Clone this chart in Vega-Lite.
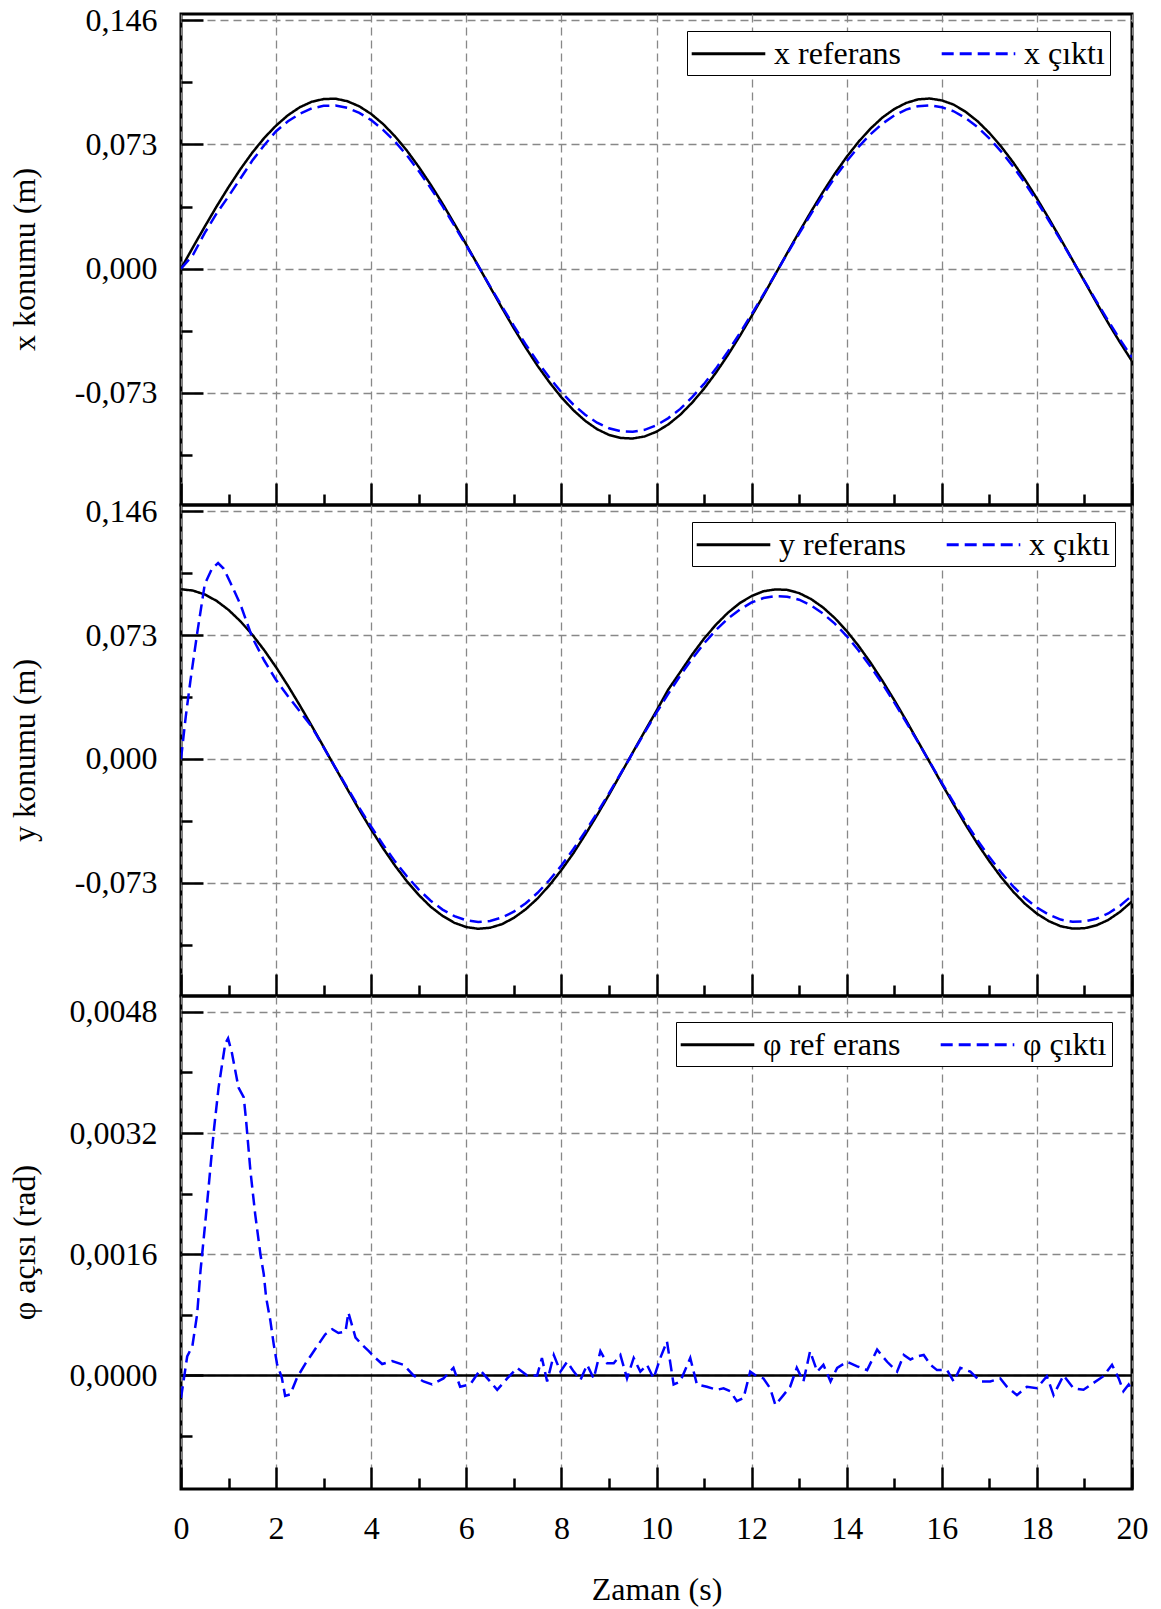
{
  "$schema": "https://vega.github.io/schema/vega-lite/v6.json",
  "background": "white",
  "padding": {"left": 6, "top": 2, "right": 20, "bottom": 5},
  "spacing": 0,
  "bounds": "flush",
  "datasets": {
    "p1": [
      {"t":0,"v":0,"s":"x referans"},{"t":0.25,"v":0.0125,"s":"x referans"},{"t":0.5,"v":0.0247,"s":"x referans"},{"t":0.75,"v":0.0366,"s":"x referans"},{"t":1,"v":0.0479,"s":"x referans"},{"t":1.25,"v":0.0585,"s":"x referans"},{"t":1.5,"v":0.0682,"s":"x referans"},{"t":1.75,"v":0.0768,"s":"x referans"},{"t":2,"v":0.0841,"s":"x referans"},{"t":2.25,"v":0.0902,"s":"x referans"},{"t":2.5,"v":0.0949,"s":"x referans"},{"t":2.75,"v":0.0981,"s":"x referans"},{"t":3,"v":0.0997,"s":"x referans"},{"t":3.25,"v":0.0999,"s":"x referans"},{"t":3.5,"v":0.0984,"s":"x referans"},{"t":3.75,"v":0.0954,"s":"x referans"},{"t":4,"v":0.0909,"s":"x referans"},{"t":4.25,"v":0.085,"s":"x referans"},{"t":4.5,"v":0.0778,"s":"x referans"},{"t":4.75,"v":0.0694,"s":"x referans"},{"t":5,"v":0.0598,"s":"x referans"},{"t":5.25,"v":0.0494,"s":"x referans"},{"t":5.5,"v":0.0382,"s":"x referans"},{"t":5.75,"v":0.0263,"s":"x referans"},{"t":6,"v":0.0141,"s":"x referans"},{"t":6.25,"v":0.0017,"s":"x referans"},{"t":6.5,"v":-0.0108,"s":"x referans"},{"t":6.75,"v":-0.0231,"s":"x referans"},{"t":7,"v":-0.0351,"s":"x referans"},{"t":7.25,"v":-0.0465,"s":"x referans"},{"t":7.5,"v":-0.0572,"s":"x referans"},{"t":7.75,"v":-0.0669,"s":"x referans"},{"t":8,"v":-0.0757,"s":"x referans"},{"t":8.25,"v":-0.0832,"s":"x referans"},{"t":8.5,"v":-0.0895,"s":"x referans"},{"t":8.75,"v":-0.0944,"s":"x referans"},{"t":9,"v":-0.0978,"s":"x referans"},{"t":9.25,"v":-0.0996,"s":"x referans"},{"t":9.5,"v":-0.0999,"s":"x referans"},{"t":9.75,"v":-0.0987,"s":"x referans"},{"t":10,"v":-0.0959,"s":"x referans"},{"t":10.25,"v":-0.0916,"s":"x referans"},{"t":10.5,"v":-0.0859,"s":"x referans"},{"t":10.75,"v":-0.0788,"s":"x referans"},{"t":11,"v":-0.0706,"s":"x referans"},{"t":11.25,"v":-0.0612,"s":"x referans"},{"t":11.5,"v":-0.0509,"s":"x referans"},{"t":11.75,"v":-0.0397,"s":"x referans"},{"t":12,"v":-0.0279,"s":"x referans"},{"t":12.25,"v":-0.0158,"s":"x referans"},{"t":12.5,"v":-0.0033,"s":"x referans"},{"t":12.75,"v":0.0092,"s":"x referans"},{"t":13,"v":0.0215,"s":"x referans"},{"t":13.25,"v":0.0335,"s":"x referans"},{"t":13.5,"v":0.045,"s":"x referans"},{"t":13.75,"v":0.0558,"s":"x referans"},{"t":14,"v":0.0657,"s":"x referans"},{"t":14.25,"v":0.0746,"s":"x referans"},{"t":14.5,"v":0.0823,"s":"x referans"},{"t":14.75,"v":0.0888,"s":"x referans"},{"t":15,"v":0.0938,"s":"x referans"},{"t":15.25,"v":0.0974,"s":"x referans"},{"t":15.5,"v":0.0995,"s":"x referans"},{"t":15.75,"v":0.1,"s":"x referans"},{"t":16,"v":0.0989,"s":"x referans"},{"t":16.25,"v":0.0964,"s":"x referans"},{"t":16.5,"v":0.0922,"s":"x referans"},{"t":16.75,"v":0.0867,"s":"x referans"},{"t":17,"v":0.0798,"s":"x referans"},{"t":17.25,"v":0.0717,"s":"x referans"},{"t":17.5,"v":0.0625,"s":"x referans"},{"t":17.75,"v":0.0523,"s":"x referans"},{"t":18,"v":0.0412,"s":"x referans"},{"t":18.25,"v":0.0295,"s":"x referans"},{"t":18.5,"v":0.0174,"s":"x referans"},{"t":18.75,"v":0.005,"s":"x referans"},{"t":19,"v":-0.0075,"s":"x referans"},{"t":19.25,"v":-0.0199,"s":"x referans"},{"t":19.5,"v":-0.032,"s":"x referans"},{"t":19.75,"v":-0.0435,"s":"x referans"},{"t":20,"v":-0.0544,"s":"x referans"},
      {"t":0,"v":0,"s":"x çıktı"},{"t":0.25,"v":0.008,"s":"x çıktı"},{"t":0.5,"v":0.021,"s":"x çıktı"},{"t":0.75,"v":0.0325,"s":"x çıktı"},{"t":1,"v":0.0425,"s":"x çıktı"},{"t":1.25,"v":0.053,"s":"x çıktı"},{"t":1.5,"v":0.0635,"s":"x çıktı"},{"t":1.75,"v":0.0725,"s":"x çıktı"},{"t":2,"v":0.0808,"s":"x çıktı"},{"t":2.25,"v":0.0866,"s":"x çıktı"},{"t":2.5,"v":0.0911,"s":"x çıktı"},{"t":2.75,"v":0.0942,"s":"x çıktı"},{"t":3,"v":0.0957,"s":"x çıktı"},{"t":3.25,"v":0.0959,"s":"x çıktı"},{"t":3.5,"v":0.0945,"s":"x çıktı"},{"t":3.75,"v":0.0916,"s":"x çıktı"},{"t":4,"v":0.0873,"s":"x çıktı"},{"t":4.25,"v":0.0816,"s":"x çıktı"},{"t":4.5,"v":0.0747,"s":"x çıktı"},{"t":4.75,"v":0.0666,"s":"x çıktı"},{"t":5,"v":0.0574,"s":"x çıktı"},{"t":5.25,"v":0.0474,"s":"x çıktı"},{"t":5.5,"v":0.0367,"s":"x çıktı"},{"t":5.75,"v":0.0252,"s":"x çıktı"},{"t":6,"v":0.0135,"s":"x çıktı"},{"t":6.25,"v":0.0016,"s":"x çıktı"},{"t":6.5,"v":-0.0104,"s":"x çıktı"},{"t":6.75,"v":-0.0222,"s":"x çıktı"},{"t":7,"v":-0.0337,"s":"x çıktı"},{"t":7.25,"v":-0.0446,"s":"x çıktı"},{"t":7.5,"v":-0.0549,"s":"x çıktı"},{"t":7.75,"v":-0.0642,"s":"x çıktı"},{"t":8,"v":-0.0727,"s":"x çıktı"},{"t":8.25,"v":-0.0799,"s":"x çıktı"},{"t":8.5,"v":-0.0859,"s":"x çıktı"},{"t":8.75,"v":-0.0906,"s":"x çıktı"},{"t":9,"v":-0.0939,"s":"x çıktı"},{"t":9.25,"v":-0.0956,"s":"x çıktı"},{"t":9.5,"v":-0.0959,"s":"x çıktı"},{"t":9.75,"v":-0.0948,"s":"x çıktı"},{"t":10,"v":-0.0921,"s":"x çıktı"},{"t":10.25,"v":-0.0879,"s":"x çıktı"},{"t":10.5,"v":-0.0825,"s":"x çıktı"},{"t":10.75,"v":-0.0756,"s":"x çıktı"},{"t":11,"v":-0.0678,"s":"x çıktı"},{"t":11.25,"v":-0.0588,"s":"x çıktı"},{"t":11.5,"v":-0.0489,"s":"x çıktı"},{"t":11.75,"v":-0.0381,"s":"x çıktı"},{"t":12,"v":-0.0268,"s":"x çıktı"},{"t":12.25,"v":-0.0152,"s":"x çıktı"},{"t":12.5,"v":-0.0032,"s":"x çıktı"},{"t":12.75,"v":0.0088,"s":"x çıktı"},{"t":13,"v":0.0206,"s":"x çıktı"},{"t":13.25,"v":0.0322,"s":"x çıktı"},{"t":13.5,"v":0.0432,"s":"x çıktı"},{"t":13.75,"v":0.0536,"s":"x çıktı"},{"t":14,"v":0.0631,"s":"x çıktı"},{"t":14.25,"v":0.0716,"s":"x çıktı"},{"t":14.5,"v":0.079,"s":"x çıktı"},{"t":14.75,"v":0.0852,"s":"x çıktı"},{"t":15,"v":0.09,"s":"x çıktı"},{"t":15.25,"v":0.0935,"s":"x çıktı"},{"t":15.5,"v":0.0955,"s":"x çıktı"},{"t":15.75,"v":0.096,"s":"x çıktı"},{"t":16,"v":0.0949,"s":"x çıktı"},{"t":16.25,"v":0.0925,"s":"x çıktı"},{"t":16.5,"v":0.0885,"s":"x çıktı"},{"t":16.75,"v":0.0832,"s":"x çıktı"},{"t":17,"v":0.0766,"s":"x çıktı"},{"t":17.25,"v":0.0688,"s":"x çıktı"},{"t":17.5,"v":0.06,"s":"x çıktı"},{"t":17.75,"v":0.0502,"s":"x çıktı"},{"t":18,"v":0.0396,"s":"x çıktı"},{"t":18.25,"v":0.0283,"s":"x çıktı"},{"t":18.5,"v":0.0167,"s":"x çıktı"},{"t":18.75,"v":0.0048,"s":"x çıktı"},{"t":19,"v":-0.0072,"s":"x çıktı"},{"t":19.25,"v":-0.0191,"s":"x çıktı"},{"t":19.5,"v":-0.0307,"s":"x çıktı"},{"t":19.75,"v":-0.0418,"s":"x çıktı"},{"t":20,"v":-0.0522,"s":"x çıktı"}
    ],
    "p2": [
      {"t":0,"v":0.1,"s":"y referans"},{"t":0.25,"v":0.0992,"s":"y referans"},{"t":0.5,"v":0.0969,"s":"y referans"},{"t":0.75,"v":0.0931,"s":"y referans"},{"t":1,"v":0.0878,"s":"y referans"},{"t":1.25,"v":0.0811,"s":"y referans"},{"t":1.5,"v":0.0732,"s":"y referans"},{"t":1.75,"v":0.0641,"s":"y referans"},{"t":2,"v":0.054,"s":"y referans"},{"t":2.25,"v":0.0431,"s":"y referans"},{"t":2.5,"v":0.0315,"s":"y referans"},{"t":2.75,"v":0.0195,"s":"y referans"},{"t":3,"v":0.0071,"s":"y referans"},{"t":3.25,"v":-0.0054,"s":"y referans"},{"t":3.5,"v":-0.0178,"s":"y referans"},{"t":3.75,"v":-0.03,"s":"y referans"},{"t":4,"v":-0.0416,"s":"y referans"},{"t":4.25,"v":-0.0526,"s":"y referans"},{"t":4.5,"v":-0.0628,"s":"y referans"},{"t":4.75,"v":-0.072,"s":"y referans"},{"t":5,"v":-0.0801,"s":"y referans"},{"t":5.25,"v":-0.087,"s":"y referans"},{"t":5.5,"v":-0.0924,"s":"y referans"},{"t":5.75,"v":-0.0965,"s":"y referans"},{"t":6,"v":-0.099,"s":"y referans"},{"t":6.25,"v":-0.1,"s":"y referans"},{"t":6.5,"v":-0.0994,"s":"y referans"},{"t":6.75,"v":-0.0973,"s":"y referans"},{"t":7,"v":-0.0936,"s":"y referans"},{"t":7.25,"v":-0.0885,"s":"y referans"},{"t":7.5,"v":-0.0821,"s":"y referans"},{"t":7.75,"v":-0.0743,"s":"y referans"},{"t":8,"v":-0.0654,"s":"y referans"},{"t":8.25,"v":-0.0556,"s":"y referans"},{"t":8.5,"v":-0.0446,"s":"y referans"},{"t":8.75,"v":-0.0331,"s":"y referans"},{"t":9,"v":-0.0211,"s":"y referans"},{"t":9.25,"v":-0.0087,"s":"y referans"},{"t":9.5,"v":0.0038,"s":"y referans"},{"t":9.75,"v":0.0162,"s":"y referans"},{"t":10,"v":0.0284,"s":"y referans"},{"t":10.25,"v":0.041,"s":"y referans"},{"t":10.5,"v":0.0512,"s":"y referans"},{"t":10.75,"v":0.0615,"s":"y referans"},{"t":11,"v":0.0709,"s":"y referans"},{"t":11.25,"v":0.0791,"s":"y referans"},{"t":11.5,"v":0.0861,"s":"y referans"},{"t":11.75,"v":0.0918,"s":"y referans"},{"t":12,"v":0.096,"s":"y referans"},{"t":12.25,"v":0.0988,"s":"y referans"},{"t":12.5,"v":0.0999,"s":"y referans"},{"t":12.75,"v":0.0996,"s":"y referans"},{"t":13,"v":0.0977,"s":"y referans"},{"t":13.25,"v":0.0942,"s":"y referans"},{"t":13.5,"v":0.0893,"s":"y referans"},{"t":13.75,"v":0.083,"s":"y referans"},{"t":14,"v":0.0754,"s":"y referans"},{"t":14.25,"v":0.0666,"s":"y referans"},{"t":14.5,"v":0.0568,"s":"y referans"},{"t":14.75,"v":0.0461,"s":"y referans"},{"t":15,"v":0.0347,"s":"y referans"},{"t":15.25,"v":0.0227,"s":"y referans"},{"t":15.5,"v":0.0103,"s":"y referans"},{"t":15.75,"v":-0.0021,"s":"y referans"},{"t":16,"v":-0.0146,"s":"y referans"},{"t":16.25,"v":-0.0268,"s":"y referans"},{"t":16.5,"v":-0.0387,"s":"y referans"},{"t":16.75,"v":-0.0499,"s":"y referans"},{"t":17,"v":-0.0602,"s":"y referans"},{"t":17.25,"v":-0.0697,"s":"y referans"},{"t":17.5,"v":-0.0781,"s":"y referans"},{"t":17.75,"v":-0.0853,"s":"y referans"},{"t":18,"v":-0.0911,"s":"y referans"},{"t":18.25,"v":-0.0955,"s":"y referans"},{"t":18.5,"v":-0.0985,"s":"y referans"},{"t":18.75,"v":-0.0999,"s":"y referans"},{"t":19,"v":-0.0997,"s":"y referans"},{"t":19.25,"v":-0.098,"s":"y referans"},{"t":19.5,"v":-0.0948,"s":"y referans"},{"t":19.75,"v":-0.09,"s":"y referans"},{"t":20,"v":-0.0839,"s":"y referans"},
      {"t":0,"v":0,"s":"x çıktı"},{"t":0.1,"v":0.025,"s":"x çıktı"},{"t":0.2,"v":0.0465,"s":"x çıktı"},{"t":0.34,"v":0.074,"s":"x çıktı"},{"t":0.5,"v":0.103,"s":"x çıktı"},{"t":0.65,"v":0.112,"s":"x çıktı"},{"t":0.78,"v":0.1154,"s":"x çıktı"},{"t":0.9,"v":0.112,"s":"x çıktı"},{"t":1.04,"v":0.1038,"s":"x çıktı"},{"t":1.25,"v":0.091,"s":"x çıktı"},{"t":1.5,"v":0.0715,"s":"x çıktı"},{"t":1.75,"v":0.058,"s":"x çıktı"},{"t":2,"v":0.0465,"s":"x çıktı"},{"t":2.25,"v":0.037,"s":"x çıktı"},{"t":2.5,"v":0.028,"s":"x çıktı"},{"t":2.75,"v":0.019,"s":"x çıktı"},{"t":3,"v":0.0068,"s":"x çıktı"},{"t":3.25,"v":-0.0052,"s":"x çıktı"},{"t":3.5,"v":-0.0171,"s":"x çıktı"},{"t":3.75,"v":-0.0288,"s":"x çıktı"},{"t":4,"v":-0.0399,"s":"x çıktı"},{"t":4.25,"v":-0.0505,"s":"x çıktı"},{"t":4.5,"v":-0.0603,"s":"x çıktı"},{"t":4.75,"v":-0.0691,"s":"x çıktı"},{"t":5,"v":-0.0769,"s":"x çıktı"},{"t":5.25,"v":-0.0835,"s":"x çıktı"},{"t":5.5,"v":-0.0887,"s":"x çıktı"},{"t":5.75,"v":-0.0926,"s":"x çıktı"},{"t":6,"v":-0.095,"s":"x çıktı"},{"t":6.25,"v":-0.096,"s":"x çıktı"},{"t":6.5,"v":-0.0954,"s":"x çıktı"},{"t":6.75,"v":-0.0934,"s":"x çıktı"},{"t":7,"v":-0.0899,"s":"x çıktı"},{"t":7.25,"v":-0.085,"s":"x çıktı"},{"t":7.5,"v":-0.0788,"s":"x çıktı"},{"t":7.75,"v":-0.0713,"s":"x çıktı"},{"t":8,"v":-0.0628,"s":"x çıktı"},{"t":8.25,"v":-0.0532,"s":"x çıktı"},{"t":8.5,"v":-0.0428,"s":"x çıktı"},{"t":8.75,"v":-0.0318,"s":"x çıktı"},{"t":9,"v":-0.0203,"s":"x çıktı"},{"t":9.25,"v":-0.0084,"s":"x çıktı"},{"t":9.5,"v":0.0036,"s":"x çıktı"},{"t":9.75,"v":0.0155,"s":"x çıktı"},{"t":10,"v":0.0273,"s":"x çıktı"},{"t":10.25,"v":0.0385,"s":"x çıktı"},{"t":10.5,"v":0.0492,"s":"x çıktı"},{"t":10.75,"v":0.059,"s":"x çıktı"},{"t":11,"v":0.0681,"s":"x çıktı"},{"t":11.25,"v":0.0759,"s":"x çıktı"},{"t":11.5,"v":0.0827,"s":"x çıktı"},{"t":11.75,"v":0.088,"s":"x çıktı"},{"t":12,"v":0.0922,"s":"x çıktı"},{"t":12.25,"v":0.0948,"s":"x çıktı"},{"t":12.5,"v":0.0959,"s":"x çıktı"},{"t":12.75,"v":0.0956,"s":"x çıktı"},{"t":13,"v":0.0938,"s":"x çıktı"},{"t":13.25,"v":0.0904,"s":"x çıktı"},{"t":13.5,"v":0.0857,"s":"x çıktı"},{"t":13.75,"v":0.0797,"s":"x çıktı"},{"t":14,"v":0.0724,"s":"x çıktı"},{"t":14.25,"v":0.0639,"s":"x çıktı"},{"t":14.5,"v":0.0545,"s":"x çıktı"},{"t":14.75,"v":0.0443,"s":"x çıktı"},{"t":15,"v":0.0333,"s":"x çıktı"},{"t":15.25,"v":0.0218,"s":"x çıktı"},{"t":15.5,"v":0.0099,"s":"x çıktı"},{"t":15.75,"v":-0.002,"s":"x çıktı"},{"t":16,"v":-0.014,"s":"x çıktı"},{"t":16.25,"v":-0.0257,"s":"x çıktı"},{"t":16.5,"v":-0.0372,"s":"x çıktı"},{"t":16.75,"v":-0.0479,"s":"x çıktı"},{"t":17,"v":-0.0578,"s":"x çıktı"},{"t":17.25,"v":-0.0669,"s":"x çıktı"},{"t":17.5,"v":-0.075,"s":"x çıktı"},{"t":17.75,"v":-0.0819,"s":"x çıktı"},{"t":18,"v":-0.0875,"s":"x çıktı"},{"t":18.25,"v":-0.0917,"s":"x çıktı"},{"t":18.5,"v":-0.0946,"s":"x çıktı"},{"t":18.75,"v":-0.0959,"s":"x çıktı"},{"t":19,"v":-0.0957,"s":"x çıktı"},{"t":19.25,"v":-0.0941,"s":"x çıktı"},{"t":19.5,"v":-0.091,"s":"x çıktı"},{"t":19.75,"v":-0.0864,"s":"x çıktı"},{"t":20,"v":-0.0805,"s":"x çıktı"}
    ],
    "p3": [
      {"t":0,"v":0,"s":"φ ref erans"},{"t":20,"v":0,"s":"φ ref erans"},
      {"t":0,"v":-0.0003,"s":"φ çıktı"},{"t":0.13,"v":0.00025,"s":"φ çıktı"},{"t":0.24,"v":0.00039,"s":"φ çıktı"},{"t":0.34,"v":0.00081,"s":"φ çıktı"},{"t":0.41,"v":0.00138,"s":"φ çıktı"},{"t":0.5,"v":0.00195,"s":"φ çıktı"},{"t":0.58,"v":0.00248,"s":"φ çıktı"},{"t":0.69,"v":0.00323,"s":"φ çıktı"},{"t":0.79,"v":0.0038,"s":"φ çıktı"},{"t":0.93,"v":0.00438,"s":"φ çıktı"},{"t":0.99,"v":0.00445,"s":"φ çıktı"},{"t":1.07,"v":0.00426,"s":"φ çıktı"},{"t":1.21,"v":0.0038,"s":"φ çıktı"},{"t":1.32,"v":0.00367,"s":"φ çıktı"},{"t":1.37,"v":0.00336,"s":"φ çıktı"},{"t":1.46,"v":0.0027,"s":"φ çıktı"},{"t":1.56,"v":0.00213,"s":"φ çıktı"},{"t":1.67,"v":0.0016,"s":"φ çıktı"},{"t":1.74,"v":0.00134,"s":"φ çıktı"},{"t":1.79,"v":0.00103,"s":"φ çıktı"},{"t":1.88,"v":0.00072,"s":"φ çıktı"},{"t":1.95,"v":0.00041,"s":"φ çıktı"},{"t":2.02,"v":0.00015,"s":"φ çıktı"},{"t":2.12,"v":-0.00003,"s":"φ çıktı"},{"t":2.19,"v":-0.00027,"s":"φ çıktı"},{"t":2.3,"v":-0.00025,"s":"φ çıktı"},{"t":2.44,"v":-0.00003,"s":"φ çıktı"},{"t":2.61,"v":0.00015,"s":"φ çıktı"},{"t":2.75,"v":0.00028,"s":"φ çıktı"},{"t":2.89,"v":0.00041,"s":"φ çıktı"},{"t":3.03,"v":0.00054,"s":"φ çıktı"},{"t":3.18,"v":0.00061,"s":"φ çıktı"},{"t":3.31,"v":0.00056,"s":"φ çıktı"},{"t":3.46,"v":0.00058,"s":"φ çıktı"},{"t":3.52,"v":0.00083,"s":"φ çıktı"},{"t":3.67,"v":0.0005,"s":"φ çıktı"},{"t":3.8,"v":0.00041,"s":"φ çıktı"},{"t":3.95,"v":0.00032,"s":"φ çıktı"},{"t":4.09,"v":0.00023,"s":"φ çıktı"},{"t":4.23,"v":0.00015,"s":"φ çıktı"},{"t":4.44,"v":0.00019,"s":"φ çıktı"},{"t":4.68,"v":0.00014,"s":"φ çıktı"},{"t":4.89,"v":0,"s":"φ çıktı"},{"t":5.1,"v":-0.00008,"s":"φ çıktı"},{"t":5.28,"v":-0.00012,"s":"φ çıktı"},{"t":5.52,"v":-0.00004,"s":"φ çıktı"},{"t":5.73,"v":0.0001,"s":"φ çıktı"},{"t":5.87,"v":-0.00015,"s":"φ çıktı"},{"t":6.08,"v":-0.00012,"s":"φ çıktı"},{"t":6.29,"v":0.00007,"s":"φ çıktı"},{"t":6.5,"v":-0.00008,"s":"φ çıktı"},{"t":6.65,"v":-0.00019,"s":"φ çıktı"},{"t":6.86,"v":-0.00004,"s":"φ çıktı"},{"t":7.07,"v":0.0001,"s":"φ çıktı"},{"t":7.28,"v":0,"s":"φ çıktı"},{"t":7.49,"v":0,"s":"φ çıktı"},{"t":7.59,"v":0.00023,"s":"φ çıktı"},{"t":7.7,"v":-0.00008,"s":"φ çıktı"},{"t":7.84,"v":0.00027,"s":"φ çıktı"},{"t":7.98,"v":0.00005,"s":"φ çıktı"},{"t":8.12,"v":0.00018,"s":"φ çıktı"},{"t":8.26,"v":0.00005,"s":"φ çıktı"},{"t":8.4,"v":-0.00006,"s":"φ çıktı"},{"t":8.54,"v":0.00014,"s":"φ çıktı"},{"t":8.68,"v":-0.00004,"s":"φ çıktı"},{"t":8.82,"v":0.00032,"s":"φ çıktı"},{"t":8.96,"v":0.00016,"s":"φ çıktı"},{"t":9.1,"v":0.00016,"s":"φ çıktı"},{"t":9.24,"v":0.00027,"s":"φ çıktı"},{"t":9.38,"v":-0.00004,"s":"φ çıktı"},{"t":9.52,"v":0.00023,"s":"φ çıktı"},{"t":9.66,"v":0.00005,"s":"φ çıktı"},{"t":9.8,"v":0.00014,"s":"φ çıktı"},{"t":9.94,"v":-0.00004,"s":"φ çıktı"},{"t":10.08,"v":0.00023,"s":"φ çıktı"},{"t":10.22,"v":0.00045,"s":"φ çıktı"},{"t":10.36,"v":-0.00012,"s":"φ çıktı"},{"t":10.5,"v":-0.00008,"s":"φ çıktı"},{"t":10.71,"v":0.00023,"s":"φ çıktı"},{"t":10.85,"v":-0.00012,"s":"φ çıktı"},{"t":11.06,"v":-0.00015,"s":"φ çıktı"},{"t":11.27,"v":-0.00019,"s":"φ çıktı"},{"t":11.41,"v":-0.00017,"s":"φ çıktı"},{"t":11.55,"v":-0.00021,"s":"φ çıktı"},{"t":11.69,"v":-0.00034,"s":"φ çıktı"},{"t":11.83,"v":-0.0003,"s":"φ çıktı"},{"t":11.97,"v":0.00005,"s":"φ çıktı"},{"t":12.11,"v":-0.00001,"s":"φ çıktı"},{"t":12.25,"v":-0.00004,"s":"φ çıktı"},{"t":12.39,"v":-0.00017,"s":"φ çıktı"},{"t":12.5,"v":-0.00039,"s":"φ çıktı"},{"t":12.67,"v":-0.00026,"s":"φ çıktı"},{"t":12.81,"v":-0.00015,"s":"φ çıktı"},{"t":12.95,"v":0.0001,"s":"φ çıktı"},{"t":13.09,"v":-0.00008,"s":"φ çıktı"},{"t":13.23,"v":0.00032,"s":"φ çıktı"},{"t":13.38,"v":0.00005,"s":"φ çıktı"},{"t":13.51,"v":0.00014,"s":"φ çıktı"},{"t":13.66,"v":-0.00008,"s":"φ çıktı"},{"t":13.8,"v":0.0001,"s":"φ çıktı"},{"t":14.01,"v":0.00018,"s":"φ çıktı"},{"t":14.22,"v":0.00012,"s":"φ çıktı"},{"t":14.43,"v":0.00007,"s":"φ çıktı"},{"t":14.64,"v":0.00034,"s":"φ çıktı"},{"t":14.85,"v":0.00018,"s":"φ çıktı"},{"t":15.06,"v":0.00005,"s":"φ çıktı"},{"t":15.2,"v":0.00027,"s":"φ çıktı"},{"t":15.34,"v":0.00021,"s":"φ çıktı"},{"t":15.48,"v":0.00025,"s":"φ çıktı"},{"t":15.62,"v":0.00027,"s":"φ çıktı"},{"t":15.76,"v":0.00014,"s":"φ çıktı"},{"t":15.9,"v":0.00007,"s":"φ çıktı"},{"t":16.11,"v":0.00007,"s":"φ çıktı"},{"t":16.25,"v":-0.00008,"s":"φ çıktı"},{"t":16.39,"v":0.0001,"s":"φ çıktı"},{"t":16.6,"v":0.00005,"s":"φ çıktı"},{"t":16.81,"v":-0.00008,"s":"φ çıktı"},{"t":17.02,"v":-0.00008,"s":"φ çıktı"},{"t":17.23,"v":-0.00004,"s":"φ çıktı"},{"t":17.37,"v":-0.00015,"s":"φ çıktı"},{"t":17.58,"v":-0.00026,"s":"φ çıktı"},{"t":17.79,"v":-0.00015,"s":"φ çıktı"},{"t":18,"v":-0.00017,"s":"φ çıktı"},{"t":18.21,"v":-0.00001,"s":"φ çıktı"},{"t":18.35,"v":-0.00026,"s":"φ çıktı"},{"t":18.56,"v":0,"s":"φ çıktı"},{"t":18.77,"v":-0.00017,"s":"φ çıktı"},{"t":18.98,"v":-0.00019,"s":"φ çıktı"},{"t":19.19,"v":-0.0001,"s":"φ çıktı"},{"t":19.4,"v":-0.00001,"s":"φ çıktı"},{"t":19.58,"v":0.00014,"s":"φ çıktı"},{"t":19.72,"v":-0.00004,"s":"φ çıktı"},{"t":19.82,"v":-0.00021,"s":"φ çıktı"},{"t":19.93,"v":-0.00012,"s":"φ çıktı"},{"t":20,"v":-0.0002,"s":"φ çıktı"}
    ]
  },
  "vconcat": [
    {
      "width": 951, "height": 491,
      "data": {"name": "p1"},
      "mark": {"type": "line", "strokeWidth": 2.5, "clip": true},
      "encoding": {
        "x": {"field": "t", "type": "quantitative", "scale": {"domain": [0, 20], "nice": false, "zero": false},
          "axis": {"values": [0,1,2,3,4,5,6,7,8,9,10,11,12,13,14,15,16,17,18,19,20], "labels": false, "title": null,
            "tickSize": {"condition": {"test": "datum.value % 2 == 0", "value": -22}, "value": -11},
            "gridOpacity": {"condition": {"test": "datum.value % 2 == 0", "value": 1}, "value": 0}}},
        "y": {"field": "v", "type": "quantitative", "scale": {"domain": [-0.139, 0.1497], "nice": false, "zero": false},
          "axis": {"values": [-0.1095,-0.073,-0.0365,0,0.0365,0.073,0.1095,0.146], "title": "x konumu (m)",
            "labelExpr": "abs(datum.value/0.073 - round(datum.value/0.073)) < 0.01 ? (datum.value < 0 ? '-' : '') + replace(format(abs(datum.value), '.3f'), '.', ',') : ''",
            "tickSize": {"condition": {"test": "abs(datum.value/0.073 - round(datum.value/0.073)) < 0.01", "value": -22}, "value": -11},
            "gridOpacity": {"condition": {"test": "abs(datum.value/0.073 - round(datum.value/0.073)) < 0.01", "value": 1}, "value": 0},
            "titleX": -157, "titleY": 245}},
        "color": {"field": "s", "type": "nominal", "scale": {"domain": ["x referans", "x çıktı"], "range": ["#000000", "#0000ff"]},
          "legend": {"title": null, "orient": "none", "legendX": 506, "legendY": 17, "direction": "horizontal",
            "encode": {"symbols": {"update": {"strokeDash": {"signal": "datum.index == 1 ? [13, 14] : [1, 0]"}}}}}},
        "strokeDash": {"field": "s", "type": "nominal", "scale": {"domain": ["x referans", "x çıktı"], "range": [[1, 0], [12, 6]]},
          "legend": {"title": null, "orient": "none", "legendX": 506, "legendY": 17, "direction": "horizontal",
            "encode": {"symbols": {"update": {"strokeDash": {"signal": "datum.index == 1 ? [13, 14] : [1, 0]"}}}}}}
      }
    },
    {
      "width": 951, "height": 491,
      "data": {"name": "p2"},
      "mark": {"type": "line", "strokeWidth": 2.5, "clip": true},
      "encoding": {
        "x": {"field": "t", "type": "quantitative", "scale": {"domain": [0, 20], "nice": false, "zero": false},
          "axis": {"values": [0,1,2,3,4,5,6,7,8,9,10,11,12,13,14,15,16,17,18,19,20], "labels": false, "title": null,
            "tickSize": {"condition": {"test": "datum.value % 2 == 0", "value": -22}, "value": -11},
            "gridOpacity": {"condition": {"test": "datum.value % 2 == 0", "value": 1}, "value": 0}}},
        "y": {"field": "v", "type": "quantitative", "scale": {"domain": [-0.1396, 0.1496], "nice": false, "zero": false},
          "axis": {"values": [-0.1095,-0.073,-0.0365,0,0.0365,0.073,0.1095,0.146], "title": "y konumu (m)",
            "labelExpr": "abs(datum.value/0.073 - round(datum.value/0.073)) < 0.01 ? (datum.value < 0 ? '-' : '') + replace(format(abs(datum.value), '.3f'), '.', ',') : ''",
            "tickSize": {"condition": {"test": "abs(datum.value/0.073 - round(datum.value/0.073)) < 0.01", "value": -22}, "value": -11},
            "gridOpacity": {"condition": {"test": "abs(datum.value/0.073 - round(datum.value/0.073)) < 0.01", "value": 1}, "value": 0},
            "titleX": -157, "titleY": 245}},
        "color": {"field": "s", "type": "nominal", "scale": {"domain": ["y referans", "x çıktı"], "range": ["#000000", "#0000ff"]},
          "legend": {"title": null, "orient": "none", "legendX": 511, "legendY": 17, "direction": "horizontal",
            "encode": {"symbols": {"update": {"strokeDash": {"signal": "datum.index == 1 ? [13, 14] : [1, 0]"}}}}}},
        "strokeDash": {"field": "s", "type": "nominal", "scale": {"domain": ["y referans", "x çıktı"], "range": [[1, 0], [12, 6]]},
          "legend": {"title": null, "orient": "none", "legendX": 511, "legendY": 17, "direction": "horizontal",
            "encode": {"symbols": {"update": {"strokeDash": {"signal": "datum.index == 1 ? [13, 14] : [1, 0]"}}}}}}
      }
    },
    {
      "width": 951, "height": 493,
      "data": {"name": "p3"},
      "mark": {"type": "line", "strokeWidth": 2.5, "clip": true},
      "encoding": {
        "x": {"field": "t", "type": "quantitative", "scale": {"domain": [0, 20], "nice": false, "zero": false},
          "axis": {"values": [0,1,2,3,4,5,6,7,8,9,10,11,12,13,14,15,16,17,18,19,20], "title": "Zaman (s)",
            "labelExpr": "datum.value % 2 == 0 ? format(datum.value, 'd') : ''",
            "labelPadding": 46,
            "tickSize": {"condition": {"test": "datum.value % 2 == 0", "value": -22}, "value": -11},
            "gridOpacity": {"condition": {"test": "datum.value % 2 == 0", "value": 1}, "value": 0},
            "titleY": 100, "titleBaseline": "middle"}},
        "y": {"field": "v", "type": "quantitative", "scale": {"domain": [-0.0015, 0.00501], "nice": false, "zero": false},
          "axis": {"values": [-0.0008,0,0.0008,0.0016,0.0024,0.0032,0.004,0.0048], "title": "φ açısı (rad)",
            "labelExpr": "abs(datum.value/0.0016 - round(datum.value/0.0016)) < 0.01 ? (datum.value < 0 ? '-' : '') + replace(format(abs(datum.value), '.4f'), '.', ',') : ''",
            "tickSize": {"condition": {"test": "abs(datum.value/0.0016 - round(datum.value/0.0016)) < 0.01", "value": -22}, "value": -11},
            "gridOpacity": {"condition": {"test": "abs(datum.value/0.0016 - round(datum.value/0.0016)) < 0.01", "value": 1}, "value": 0},
            "titleX": -157, "titleY": 246}},
        "color": {"field": "s", "type": "nominal", "scale": {"domain": ["φ ref erans", "φ çıktı"], "range": ["#000000", "#0000ff"]},
          "legend": {"title": null, "orient": "none", "legendX": 495, "legendY": 26, "direction": "horizontal",
            "encode": {"symbols": {"update": {"strokeDash": {"signal": "datum.index == 1 ? [13, 14] : [1, 0]"}}}}}},
        "strokeDash": {"field": "s", "type": "nominal", "scale": {"domain": ["φ ref erans", "φ çıktı"], "range": [[1, 0], [12, 6]]},
          "legend": {"title": null, "orient": "none", "legendX": 495, "legendY": 26, "direction": "horizontal",
            "encode": {"symbols": {"update": {"strokeDash": {"signal": "datum.index == 1 ? [13, 14] : [1, 0]"}}}}}}
      }
    }
  ],
  "resolve": {
    "scale": {"color": "independent", "strokeDash": "independent", "x": "independent", "y": "independent"},
    "legend": {"color": "independent", "strokeDash": "independent"}
  },
  "config": {
    "view": {"stroke": "#000000", "strokeWidth": 3},
    "font": "Liberation Serif",
    "axis": {
      "domain": false,
      "labelFont": "Liberation Serif", "labelFontSize": 32, "labelColor": "#000000",
      "labelFlush": false, "labelOverlap": false, "labelBound": false, "labelPadding": 46,
      "titleFont": "Liberation Serif", "titleFontSize": 32, "titleFontWeight": "normal", "titleColor": "#000000",
      "tickColor": "#000000", "tickWidth": 2.5,
      "grid": true, "gridColor": "#888888", "gridDash": [8, 5], "gridWidth": 1.3
    },
    "axisY": {"titleAngle": 270, "titleAlign": "center", "titleBaseline": "middle"},
    "legend": {
      "symbolType": "M-2.3,0H2.3", "symbolSize": 1024, "symbolStrokeWidth": 3, "symbolOffset": 19,
      "labelFont": "Liberation Serif", "labelFontSize": 32, "labelColor": "#000000", "labelLimit": 500,
      "labelOffset": 28, "columnPadding": 33, "padding": 5,
      "strokeColor": "#000000", "fillColor": "#ffffff"
    }
  }
}
